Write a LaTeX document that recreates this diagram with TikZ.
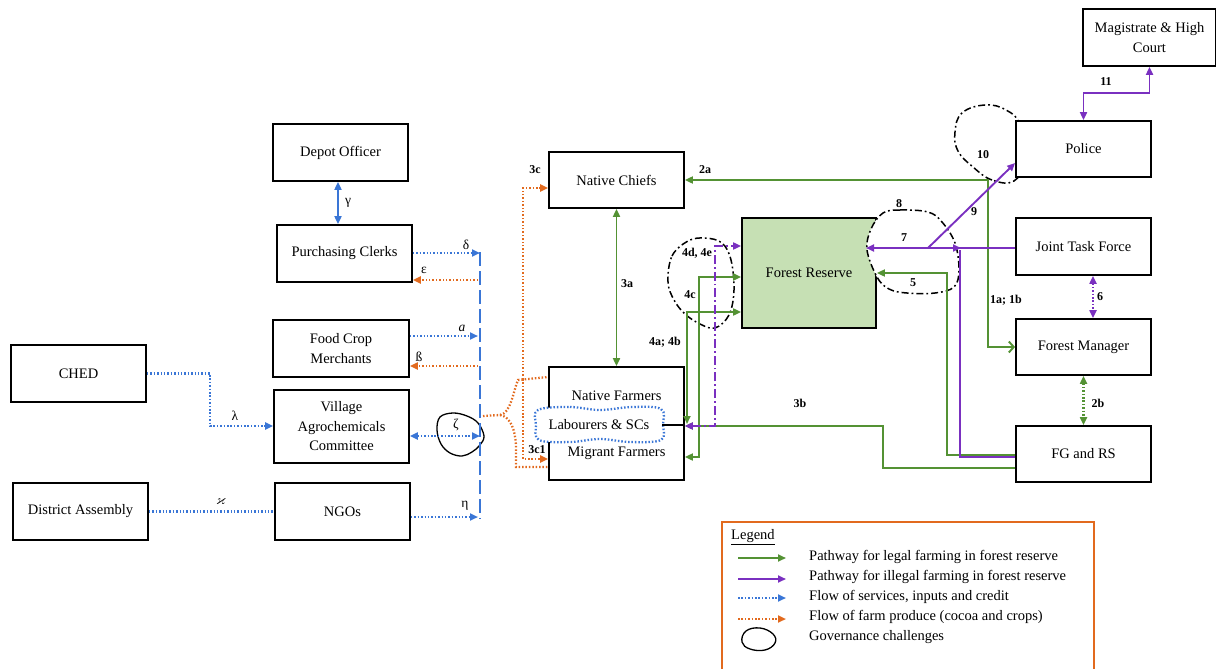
\documentclass[tikz,border=0pt]{standalone}
\usepackage{amssymb}
\usepackage{fontspec}
\setmainfont{Liberation Serif}
\usetikzlibrary{arrows.meta,calc}
\definecolor{cgreen}{RGB}{84,146,52}
\definecolor{cpurple}{RGB}{122,48,192}
\definecolor{cblue}{RGB}{58,118,214}
\definecolor{corange}{RGB}{226,106,30}
\definecolor{frfill}{RGB}{198,224,180}
\newcommand{\boxfont}{\fontsize{14.5}{19.5}\selectfont}
\tikzset{
  >={Triangle[length=8pt,width=7pt]},
  box/.style={draw, line width=1.8pt, fill=white, minimum width=135pt, minimum height=57pt, align=center, inner sep=2pt, font=\boxfont},
  gl/.style={draw=cgreen, line width=1.9pt},
  pl/.style={draw=cpurple, line width=1.9pt},
  bl/.style={draw=cblue, line width=1.9pt},
  bd/.style={draw=cblue, line width=2.3pt, dash pattern=on 1.5pt off 1.9pt},
  od/.style={draw=corange, line width=2.3pt, dash pattern=on 1.5pt off 1.9pt},
  gd/.style={draw=cgreen, line width=2.3pt, dash pattern=on 1.5pt off 1.9pt},
  pd/.style={draw=cpurple, line width=2.3pt, dash pattern=on 1.5pt off 1.9pt},
  pdd/.style={draw=cpurple, line width=1.9pt, dash pattern=on 9pt off 3pt on 1.8pt off 3pt},
  busline/.style={draw=cblue, line width=2pt, dash pattern=on 14pt off 5pt},
  cloud/.style={draw=black, line width=1.5pt, dash pattern=on 7pt off 3pt on 1.8pt off 3pt},
  lbl/.style={font=\bfseries\fontsize{12}{12}\selectfont, inner sep=0pt},
  gk/.style={font=\fontsize{13.5}{13.5}\selectfont, inner sep=0pt},
  legtxt/.style={anchor=west, inner sep=0pt, font=\fontsize{14.5}{14.5}\selectfont},
  plain/.style={inner sep=0pt, font=\boxfont}
}
\begin{document}
\begin{tikzpicture}[x=1pt,y=-1pt]
\useasboundingbox (0,0) rectangle (1216,669);

% governance cloud near police (behind box)
\draw[cloud] plot[smooth cycle, tension=0.7] coordinates {(1014,181) (992,180) (973,167) (958,151) (955,132) (962,113) (985,105) (1006,110) (1020,125) (1024,160)};

% boxes
\node[box, minimum width=133pt, minimum height=57pt] (mag) at (1149.5,37.5) {Magistrate \& High\\Court};
\node[box, minimum height=56pt] (police) at (1083.5,149) {Police};
\node[box] (jtf) at (1083.5,246.5) {Joint Task Force};
\node[box, minimum height=56pt] (fm) at (1083.5,347) {Forest Manager};
\node[box, minimum height=56pt] (fg) at (1083.5,454) {FG and RS};
\node[box, fill=frfill, minimum width=134pt, minimum height=110pt] (fr) at (809,273) {Forest Reserve};
\node[box, minimum height=56pt] (nc) at (616.5,180) {Native Chiefs};
\node[box, minimum height=113pt] (farm) at (616.5,423.5) {};
\node[box] (depot) at (340.5,152.5) {Depot Officer};
\node[box] (pc) at (344.5,253.5) {Purchasing Clerks};
\node[box, minimum width=136pt] (fcm) at (341,348.5) {Food Crop\\Merchants};
\node[box, minimum height=73pt] (vac) at (341.5,426.5) {Village\\Agrochemicals\\Committee};
\node[box] (ngo) at (342.5,511.5) {NGOs};
\node[box] (ched) at (78.5,373.5) {CHED};
\node[box] (da) at (80.5,511.5) {District Assembly};

% farmers box contents
\node[plain] (natf) at (616.5,396) {Native Farmers};
\node[plain] (migf) at (616.5,453) {Migrant Farmers};
\draw[bd, fill=white] plot[smooth cycle, tension=0.6] coordinates {(538,410) (570,407) (600,410) (632,407) (661,409) (663,425) (661,440) (630,442) (600,439) (570,442) (539,440) (536,425)};
\node[plain] (lab) at (599,425) {Labourers \& SCs};
\draw[line width=1.5pt] (lab.east -| 662,0) -- (farm.east |- 0,425);

% governance cloud 8 (white filled, cuts into forest reserve)
\draw[cloud, fill=white] plot[smooth cycle, tension=0.6] coordinates {(883,213) (900,210) (928,212) (942,222) (955,243) (959,270) (954,287) (935,293) (907,293) (889,289) (877,277) (867,250) (871,229)};

% governance cloud 4
\draw[cloud] plot[smooth cycle, tension=0.6] coordinates {(668,282) (672,256) (688,241) (705,238) (722,243) (731,260) (734,290) (729,315) (715,328) (700,324) (685,314) (674,300)};

% governance cloud zeta
\draw[line width=1.3pt] plot[smooth cycle, tension=0.6] coordinates {(440,417) (453,413) (467,416) (478,423) (484,436) (480,445) (472,452) (462,456) (450,453) (441,444) (437,430)};

% ---------- blue bus and flows ----------
\coordinate (bt) at (480,252);
\coordinate (bb) at (480,519);
\draw[busline] (bt) -- (bb);
\draw[bl,<->] (338,0 |- depot.south) -- (338,0 |- pc.north);
\draw[bd,->] (pc.east |- 0,253) -- (480,253);
\draw[od,->] (478,280) -- (pc.east |- 0,280);
\draw[bd,->] (fcm.east |- 0,336) -- (478,336);
\draw[od,->] (478,366) -- (fcm.east |- 0,366);
\draw[bd,<->] (vac.east |- 0,436) -- (480,436);
\draw[bd,->] (ngo.east |- 0,517) -- (478,517);
\draw[bd,->] (ched.east) -- (210,373.5) -- (210,426) -- (vac.west |- 0,426);
\draw[bd] (da.east) -- (ngo.west);

% ---------- orange produce flows ----------
\coordinate (oz) at (483,416);
\coordinate (os) at (500,415);
\draw[od] (oz) -- (os) .. controls (511,413) and (513,392) .. (518,380) -- (farm.west |- 0,377);
\draw[od] (os) .. controls (511,417) and (515,430) .. (516,445) -- (516,467) -- (farm.west |- 0,467);
\draw[od,->] (523,379) -- (523,188) -- (nc.west |- 0,188);
\draw[od,->] (523,379) -- (523,459) -- (farm.west |- 0,459);

% ---------- green legal pathways ----------
\draw[gl,{Triangle[length=8pt,width=7pt]}-{Straight Barb[length=5pt,width=11pt]}] (nc.east) -- (988,180) -- (988,347) -- (fm.west);
\draw[gl,<->] (nc.south) -- (farm.north);
\draw[gl,->] (fg.west |- 0,468) -- (883,468) -- (883,426) -- (farm.east |- 0,426);
\draw[gl,->] (fg.west |- 0,455) -- (947,455) -- (947,273) -- (fr.east |- 0,273);
\draw[gl,<->] (farm.east |- 0,457) -- (699,457) -- (699,277) -- (fr.west |- 0,277);
\draw[gl,<->] (fr.west |- 0,312) -- (687,312) -- (687,424);
\draw[gd,<->] (fm.south) -- (fg.north);

% ---------- purple illegal pathways ----------
\coordinate (pj) at (928,248);
\draw[pdd,<->] (farm.east |- 0,426) -- (715,426) -- (715,246) -- (fr.west |- 0,246);
\draw[pl,->] (jtf.west |- 0,248) -- (866,248);
\draw[pl] (fg.west |- 0,457) -- (960,457) -- (960,250);
\draw[pl,->] (pj) -- (961,248);
\draw[pl,->] (pj) -- (police.west |- 0,163);
\draw[pl,<->] (police.north) -- (police.north |- 0,93) -- (mag.south |- 0,93) -- (mag.south);
\draw[pd,<->] (1093,0 |- jtf.south) -- (1093,0 |- fm.north);

% ---------- labels ----------
\node[lbl] at (535,170) {3c};
\node[lbl] at (705,170) {2a};
\node[lbl] at (627,284) {3a};
\node[lbl] at (537,450) {3c1};
\node[lbl] at (697,253) {4d, 4e};
\node[lbl] at (690,295) {4c};
\node[lbl] at (665,342) {4a; 4b};
\node[lbl] at (800,403) {3b};
\node[lbl] at (913,283) {5};
\node[lbl] at (904,238) {7};
\node[lbl] at (899,204) {8};
\node[lbl] at (974,212) {9};
\node[lbl] at (983,155) {10};
\node[lbl] at (1106,82) {11};
\node[lbl] at (1100,297) {6};
\node[lbl] at (1098,403) {2b};
\node[lbl] at (1006,300) {1a; 1b};

\node[gk] at (466,245) {δ};
\node[gk] at (424,270) {ε};
\node[gk] at (462,328) {\textit{a}};
\node[gk] at (419,357) {ß};
\node[gk] at (456,425) {ζ};
\node[gk] at (465,506) {η};
\node[gk] at (235,416) {λ};
\node[gk] at (221,502) {$\varkappa$};
\node[gk] at (348,203) {γ};

% ---------- legend ----------
\draw[draw=corange, line width=1.6pt] (722,522) rectangle (1094,690);
\node[legtxt] (legt) at (731,537) {\underline{Legend}};
\draw[gl,->] (738,558) -- (786,558);
\draw[pl,->] (738,579) -- (786,579);
\draw[bd,->] (738,598) -- (786,598);
\draw[od,->] (738,619) -- (786,619);
\draw[line width=1.3pt] plot[smooth cycle, tension=0.7] coordinates {(746,631) (760,628) (773,634) (775,643) (765,650) (750,649) (742,642)};
\node[legtxt] at (809,557) {Pathway for legal farming in forest reserve};
\node[legtxt] at (809,577) {Pathway for illegal farming in forest reserve};
\node[legtxt] at (809,597) {Flow of services, inputs and credit};
\node[legtxt] at (809,617) {Flow of farm produce (cocoa and crops)};
\node[legtxt] at (809,637) {Governance challenges};
\end{tikzpicture}
\end{document}
